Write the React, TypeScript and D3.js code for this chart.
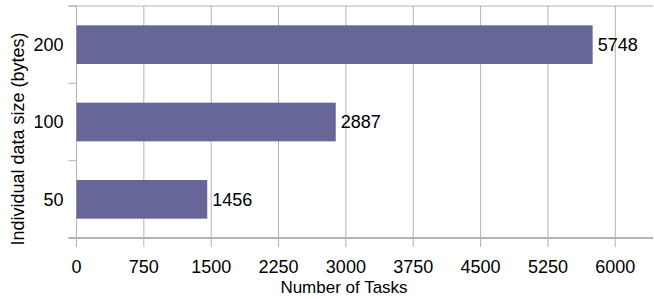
import { useEffect, useRef } from "react";
import * as d3 from "d3";

// Données du graphique
const categories = ["200", "100", "50"];
const taskCounts = [5748, 2887, 1456];
const xTicks = [0, 750, 1500, 2250, 3000, 3750, 4500, 5250, 6000];

const WIDTH = 654;
const HEIGHT = 299;
const FONT = "'Liberation Sans', Arial, sans-serif";

export default function App() {
  const svgRef = useRef<SVGSVGElement>(null);

  useEffect(() => {
    if (!svgRef.current) return;
    document.body.style.margin = "0";

    const svg = d3.select(svgRef.current);
    svg.selectAll("*").remove();

    const margin = { top: 6, right: 1, bottom: 61, left: 76.5 };
    const chartWidth = WIDTH - margin.left - margin.right;
    const chartHeight = HEIGHT - margin.top - margin.bottom;

    const xScale = d3.scaleLinear().domain([0, 6420]).range([0, chartWidth]);

    const yScale = d3
      .scaleBand()
      .domain(categories)
      .range([0, chartHeight])
      .paddingInner(0.5)
      .paddingOuter(0.25);

    const g = svg
      .append("g")
      .attr("transform", `translate(${margin.left},${margin.top})`);

    // Grille verticale
    g.append("g")
      .selectAll("line")
      .data(xTicks)
      .enter()
      .append("line")
      .attr("x1", (d) => xScale(d))
      .attr("x2", (d) => xScale(d))
      .attr("y1", 0)
      .attr("y2", chartHeight + 9)
      .style("stroke", "#b3b3b3")
      .style("stroke-width", 1);

    // Ligne du haut
    g.append("line")
      .attr("x1", -8)
      .attr("x2", chartWidth)
      .attr("y1", 0)
      .attr("y2", 0)
      .style("stroke", "#b3b3b3");

    // Axe du bas
    g.append("line")
      .attr("x1", -8)
      .attr("x2", chartWidth)
      .attr("y1", chartHeight)
      .attr("y2", chartHeight)
      .style("stroke", "#b3b3b3")
      .style("stroke-width", 2);

    // Graduations des catégories
    const step = yScale.step();
    const boundaries = d3.range(categories.length + 1).map((i) => i * step);
    g.append("g")
      .selectAll("line")
      .data(boundaries)
      .enter()
      .append("line")
      .attr("x1", -8)
      .attr("x2", 0)
      .attr("y1", (d) => d)
      .attr("y2", (d) => d)
      .style("stroke", "#b3b3b3");

    // Barres
    g.selectAll(".bar")
      .data(categories)
      .enter()
      .append("rect")
      .attr("class", "bar")
      .attr("x", 0)
      .attr("y", (d) => yScale(d) || 0)
      .attr("width", (_, i) => xScale(taskCounts[i]))
      .attr("height", yScale.bandwidth())
      .attr("fill", "#666699");

    // Labels de valeur
    g.selectAll(".label")
      .data(categories)
      .enter()
      .append("text")
      .attr("class", "label")
      .attr("x", (_, i) => xScale(taskCounts[i]) + 5)
      .attr("y", (d) => (yScale(d) || 0) + yScale.bandwidth() / 2)
      .attr("dy", "0.35em")
      .style("fill", "#000")
      .style("font-family", FONT)
      .style("font-size", "18px")
      .text((_, i) => taskCounts[i]);

    // Labels de l'axe Y
    g.selectAll(".ylabel")
      .data(categories)
      .enter()
      .append("text")
      .attr("x", -13)
      .attr("y", (d) => (yScale(d) || 0) + yScale.bandwidth() / 2)
      .attr("dy", "0.35em")
      .attr("text-anchor", "end")
      .style("font-family", FONT)
      .style("font-size", "18px")
      .text((d) => d);

    // Labels de l'axe X
    g.selectAll(".xlabel")
      .data(xTicks)
      .enter()
      .append("text")
      .attr("x", (d) => xScale(d))
      .attr("y", chartHeight + 35)
      .attr("text-anchor", "middle")
      .style("font-family", FONT)
      .style("font-size", "18px")
      .text((d) => d);

    // Titres des axes
    svg
      .append("text")
      .attr("x", 344)
      .attr("y", 293)
      .attr("text-anchor", "middle")
      .style("font-family", FONT)
      .style("font-size", "17px")
      .text("Number of Tasks");

    svg
      .append("text")
      .attr("transform", "translate(23.5,139) rotate(-90)")
      .attr("text-anchor", "middle")
      .style("font-family", FONT)
      .style("font-size", "18px")
      .text("Individual data size (bytes)");
  }, []);

  return <svg ref={svgRef} width={WIDTH} height={HEIGHT} style={{ display: "block" }} />;
}
